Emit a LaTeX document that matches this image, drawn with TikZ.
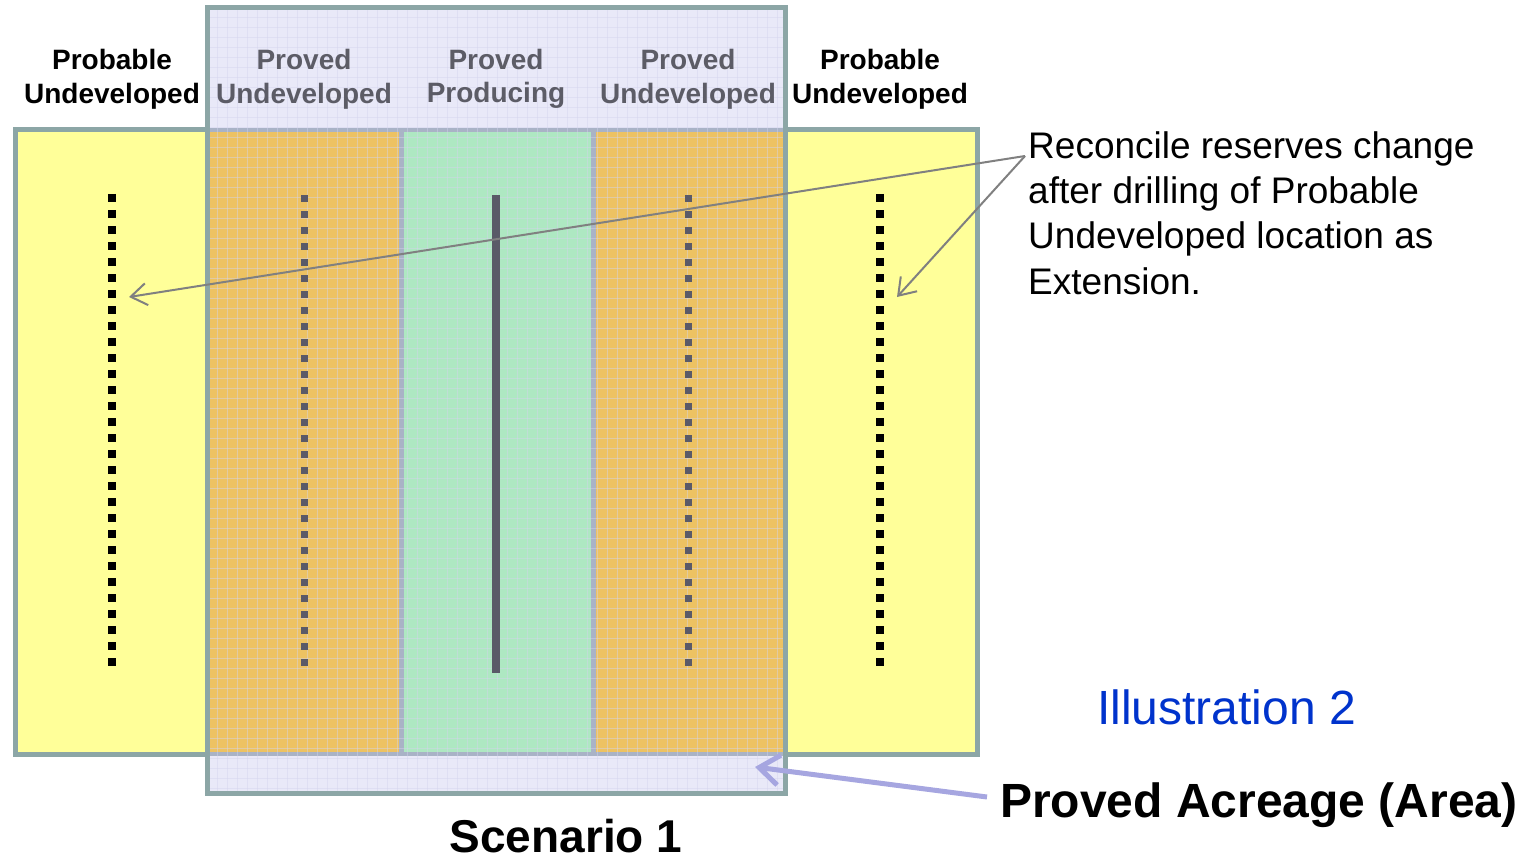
\documentclass[tikz,border=0pt]{standalone}
\usepackage{fontspec}
\setmainfont{Liberation Sans}
\usetikzlibrary{arrows.meta}
\definecolor{yellowfill}{HTML}{FFFF99}
\definecolor{borderc}{HTML}{8CA6A6}
\definecolor{orangefill}{HTML}{EDC262}
\definecolor{greenfill}{HTML}{AEE8C2}
\definecolor{lavfill}{HTML}{E9E9F8}
\definecolor{sepc}{HTML}{A9B3C6}
\definecolor{dotc}{HTML}{5A5A68}
\definecolor{textgray}{HTML}{5C5C66}
\definecolor{illblue}{HTML}{0033CC}
\definecolor{arrowgray}{HTML}{808080}
\definecolor{arrowblue}{HTML}{A6A6E0}
\definecolor{gridc}{HTML}{D4D4EE}
\tikzset{
  boxborder/.style={draw=borderc, line width=5pt},
  sepline/.style={draw=sepc, line width=5pt},
  gridline/.style={draw=gridc, line width=1pt, opacity=0.45},
  blackdots/.style={draw=black, line width=8pt, dash pattern=on 8pt off 8pt},
  graydots/.style={draw=dotc, line width=7pt, dash pattern=on 7pt off 9pt},
  solidwell/.style={draw=dotc, line width=8pt},
  hdrblack/.style={font=\bfseries\fontsize{28}{33.6}\selectfont, align=center, inner sep=0pt},
  hdrgray/.style={font=\bfseries\fontsize{28}{33.6}\selectfont, text=textgray, align=center, inner sep=0pt},
  callarrow/.style={draw=arrowgray, line width=2pt, -{Straight Barb[length=16pt, width=22pt]}},
  bluearrow/.style={draw=arrowblue, line width=5pt, -{Straight Barb[length=20pt, width=30pt]}},
}
\begin{document}
\begin{tikzpicture}[x=1pt, y=-1pt]
\useasboundingbox (0,0) rectangle (1533,861);
% probable area
\filldraw[fill=yellowfill, boxborder] (15,130) rectangle (977,754);
% proved acreage box
\fill[lavfill] (207,8) rectangle (785,793);
\fill[orangefill] (207,130) rectangle (785,754);
\fill[greenfill] (401,130) rectangle (593,754);
\draw[sepline] (401,130) -- (401,754);
\draw[sepline] (593,130) -- (593,754);
\draw[sepc, line width=4pt] (207,130) -- (785,130);
\draw[sepc, line width=4pt] (207,754) -- (785,754);
\foreach \gx in {217,227,...,777} {\draw[gridline] (\gx,10) -- (\gx,791);}
\foreach \gy in {18,28,...,788} {\draw[gridline] (209,\gy) -- (783,\gy);}
\draw[boxborder] (207,8) rectangle (785,793);
% wells
\draw[blackdots] (112,194) -- (112,668);
\draw[blackdots] (880,194) -- (880,668);
\draw[graydots] (304,195) -- (304,668);
\draw[graydots] (688,195) -- (688,668);
\draw[solidwell] (496,195) -- (496,673);
% headers
\node[hdrblack] (hpl) at (112,79) {Probable\\Undeveloped};
\node[hdrgray] (hpu1) at (304,79) {Proved\\Undeveloped};
\node[hdrgray] (hpp) at (496,79) {Proved\\Producing};
\node[hdrgray] (hpu2) at (688,79) {Proved\\Undeveloped};
\node[hdrblack] (hpr) at (880,79) {Probable\\Undeveloped};
% callout
\node[font=\fontsize{37}{45.3}\selectfont, align=left, inner sep=0pt, anchor=west] (note) at (1028,213)
  {Reconcile reserves change\\after drilling of Probable\\Undeveloped location as\\Extension.};
\coordinate (callout) at (1025,156);
\coordinate (tipL) at (129,297);
\coordinate (tipR) at (897,297);
\draw[callarrow] (callout) -- (tipL);
\draw[callarrow] (callout) -- (tipR);
% bottom labels
\node[font=\fontsize{48}{56}\selectfont, text=illblue, inner sep=0pt, anchor=base west] (ill) at (1097,724) {Illustration 2};
\node[font=\bfseries\fontsize{48}{56}\selectfont, inner sep=0pt, anchor=base west] (acre) at (1000,817) {Proved Acreage (Area)};
\node[font=\bfseries\fontsize{46}{54}\selectfont, inner sep=0pt, anchor=base] (scen) at (566,852) {Scenario 1};
\coordinate (acreStart) at (987,797);
\coordinate (acreTip) at (755,767);
\draw[bluearrow] (acreStart) -- (acreTip);
\end{tikzpicture}
\end{document}
